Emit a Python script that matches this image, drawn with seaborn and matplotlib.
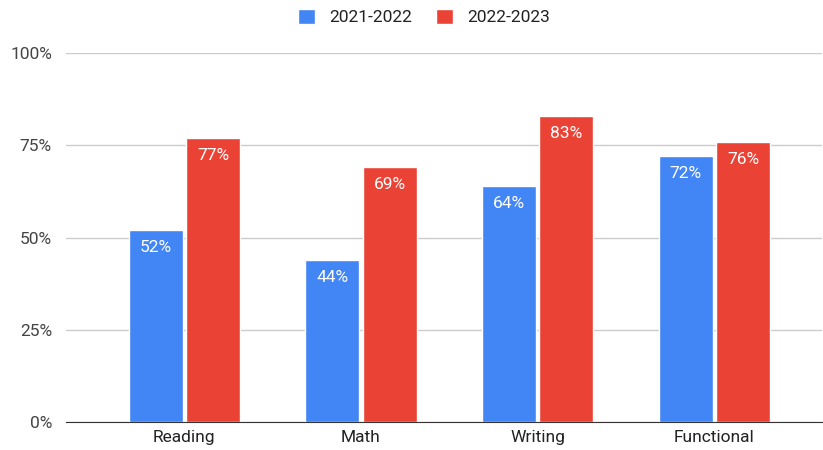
import pandas as pd
import seaborn as sns
import matplotlib.pyplot as plt
from matplotlib.ticker import FuncFormatter

# data
subjects = ['Reading', 'Math', 'Writing', 'Functional']
years = ['2021-2022', '2022-2023']
scores_2122 = [52, 44, 64, 72]
scores_2223 = [77, 69, 83, 76]

df = pd.DataFrame({
    'subject': subjects * 2,
    'year': [years[0]] * 4 + [years[1]] * 4,
    'score': scores_2122 + scores_2223,
})

sns.set_style('white')
plt.rcParams['font.family'] = ['Roboto', 'DejaVu Sans']

fig = plt.figure(figsize=(8.23, 4.5), dpi=100)
ax = fig.add_axes([0.080, 0.062, 0.919, 0.820])

palette = {'2021-2022': '#4285F4', '2022-2023': '#EA4335'}
sns.barplot(data=df, x='subject', y='score', hue='year', palette=palette,
            width=0.65, gap=0.06, saturation=1, ax=ax, legend=True)

# value labels inside top of bars
for cont in ax.containers:
    ax.bar_label(cont, labels=[f'{v:.0f}%' for v in cont.datavalues],
                 padding=-18, color='white', fontsize=12.5)

ax.set_ylim(0, 100)
ax.set_xlim(-0.67, 3.61)
ax.set_yticks([0, 25, 50, 75, 100])
ax.yaxis.set_major_formatter(FuncFormatter(lambda v, p: f'{v:.0f}%'))
ax.grid(axis='y', color='#cccccc', linewidth=1)
ax.set_axisbelow(True)
for s in ['top', 'right', 'left']:
    ax.spines[s].set_visible(False)
ax.spines['bottom'].set_color('#333333')
ax.tick_params(axis='y', length=0, labelsize=12.5, labelcolor='#444444', pad=10)
ax.tick_params(axis='x', length=0, labelsize=12.5, labelcolor='#222222', pad=6)
ax.set_xlabel('')
ax.set_ylabel('')

handles, labels = ax.get_legend_handles_labels()
ax.get_legend().remove()
fig.legend(handles, labels, loc='center', bbox_to_anchor=(0.515, 0.962), ncol=2,
           frameon=False, fontsize=12.5, handlelength=1.0, handleheight=1.0,
           columnspacing=1.4, handletextpad=0.8, labelcolor='#222222')

fig.savefig('out.png', dpi=100)
